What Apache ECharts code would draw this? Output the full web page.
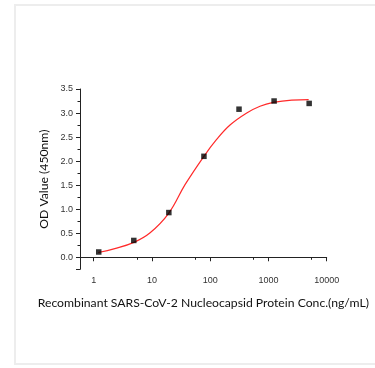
<!DOCTYPE html>
<html>
<head>
<meta charset="utf-8">
<script src="https://cdn.jsdelivr.net/npm/echarts@6/dist/echarts.min.js"></script>
<style>
  html, body { margin: 0; padding: 0; background: #fff; }
  .frame {
    position: absolute; left: 14px; top: 4px;
    width: 400px; height: 361px;
    border: 2px solid #ededed; box-sizing: border-box;
  }
  #chart { position: absolute; left: 0; top: 0; width: 375px; height: 368px; }
</style>
</head>
<body>
<div class="frame"></div>
<div id="chart"></div>
<script>
// measured points: concentration (ng/mL) vs OD450
const conc = [1.22, 4.88, 19.5, 78.1, 312.5, 1250, 5000];
const od = [0.11, 0.35, 0.93, 2.10, 3.08, 3.25, 3.20];

// fitted curve
const fitConc = [1.2, 2.3, 4.9, 9.3, 19.5, 37, 78, 129, 219, 424, 716, 1210, 2510, 4900];
const fitOd = [0.10, 0.18, 0.31, 0.51, 0.92, 1.51, 2.10, 2.45, 2.75, 3.00, 3.14, 3.22, 3.27, 3.28];

const chart = echarts.init(document.getElementById("chart"));

const labelFont = { color: "#333", fontSize: 9, fontFamily: "Liberation Sans" };
const nameFont = { color: "#111", fontSize: 12.2, fontFamily: "Lato" };

chart.setOption({
  animation: false,
  grid: { left: 80, right: 48.3, top: 89, bottom: 98.7, outerBoundsMode: "none" },
  xAxis: {
    type: "log",
    logBase: 10,
    min: 0.582,
    max: 10000,
    name: "Recombinant SARS-CoV-2 Nucleocapsid Protein Conc.(ng/mL)",
    nameLocation: "middle",
    nameGap: 28,
    nameTextStyle: nameFont,
    axisLine: { lineStyle: { color: "#222", width: 1 } },
    axisTick: { length: 4, lineStyle: { color: "#222" } },
    minorTick: { show: true, splitNumber: 2, length: 2.5, lineStyle: { color: "#222" } },
    axisLabel: Object.assign({
      margin: 7,
      showMinLabel: false,
      formatter: (v) => String(Math.round(v)),
    }, labelFont),
    splitLine: { show: false },
  },
  yAxis: {
    type: "value",
    min: -0.25,
    max: 3.5,
    splitNumber: 7,
    name: "OD Value (450nm)",
    nameLocation: "middle",
    nameGap: 16,
    nameTextStyle: nameFont,
    axisLine: { show: true, lineStyle: { color: "#222", width: 1 } },
    axisTick: { show: true, length: 4, lineStyle: { color: "#222" } },
    minorTick: { show: true, splitNumber: 2, length: 2.5, lineStyle: { color: "#222" } },
    axisLabel: Object.assign({
      margin: 7,
      showMinLabel: false,
      formatter: (v) => v.toFixed(1),
    }, labelFont),
    splitLine: { show: false },
  },
  series: [
    {
      type: "line",
      data: fitConc.map((c, i) => [c, fitOd[i]]),
      smooth: 0.4,
      symbol: "none",
      lineStyle: { color: "#ff2a2a", width: 1.2 },
      z: 2,
    },
    {
      type: "scatter",
      data: conc.map((c, i) => [c, od[i]]),
      symbol: "rect",
      symbolSize: 5.5,
      itemStyle: { color: "#000" },
      z: 3,
    },
  ],
});
</script>
</body>
</html>
